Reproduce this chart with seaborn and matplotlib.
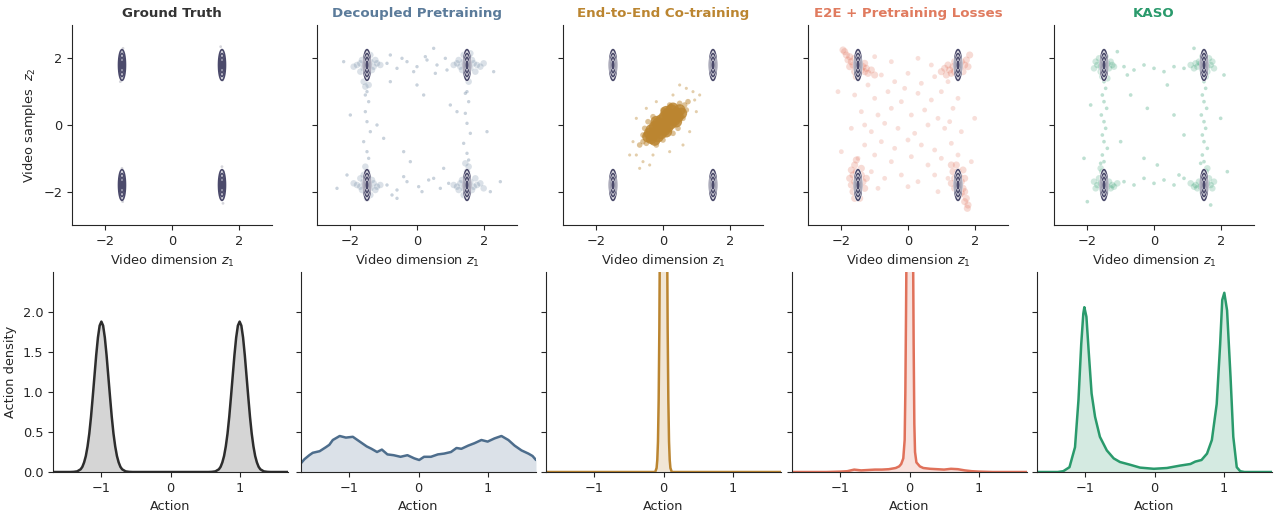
import numpy as np
import pandas as pd
import matplotlib
matplotlib.use("Agg")
import matplotlib.pyplot as plt
import matplotlib.patheffects as pe
import seaborn as sns

# ---- data ----
titles = ["Ground Truth", "Decoupled Pretraining", "End-to-End Co-training",
          "E2E + Pretraining Losses", "KASO"]
title_colors = ["#333333", "#5b7b9a", "#bb8530", "#e07b5f", "#2a9a6c"]
line_colors = ["#2d2d2d", "#4d6d8c", "#bb8530", "#e0715a", "#2a9a6c"]

# ground truth video mixture (4 modes)
gt_mean_x = [-1.5, 1.5, -1.5, 1.5]
gt_mean_y = [1.8, 1.8, -1.8, -1.8]
gt_sd_x = 0.045
gt_sd_y = 0.2
contour_levels = [0.07, 0.22, 0.5, 0.85]

gt_pts = [(-1.5, 2.2), (-1.52, 1.4), (-1.47, 2.3), (-1.55, 1.3), (1.5, 2.25), (1.52, 1.35),
          (1.46, 2.35), (-1.5, -1.3), (-1.48, -2.3), (-1.53, -2.2), (1.5, -1.25),
          (1.53, -2.35), (1.47, -2.2), (1.55, -1.4)]

dec_dense = [(-1.5, 1.8), (-1.6, 1.7), (-1.4, 1.9), (-1.7, 1.85), (-1.3, 1.75), (-1.55, 2.0),
             (-1.45, 1.6), (-1.8, 1.8), (-1.2, 1.85), (-1.65, 1.95), (-1.35, 1.65), (-1.5, 1.5),
             (-1.6, 1.3), (-1.45, 1.2), (-1.9, 1.75), (-1.1, 1.8), (-1.4, 2.1), (-1.7, 1.6),
             (-1.25, 1.95), (-1.55, 1.15),
             (1.5, 1.8), (1.6, 1.7), (1.4, 1.9), (1.7, 1.85), (1.3, 1.75), (1.55, 2.05),
             (1.45, 1.6), (1.8, 1.8), (1.2, 1.85), (1.65, 1.95), (1.35, 1.65), (1.5, 1.45),
             (1.55, 1.3), (1.9, 1.75), (1.1, 1.8), (1.4, 2.1), (1.75, 1.6), (1.25, 1.95),
             (2.0, 1.85), (1.6, 2.15),
             (-1.5, -1.8), (-1.6, -1.7), (-1.4, -1.9), (-1.7, -1.85), (-1.3, -1.75), (-1.55, -2.0),
             (-1.45, -1.6), (-1.8, -1.8), (-1.2, -1.85), (-1.65, -1.95), (-1.35, -1.65),
             (-1.5, -1.4), (-1.55, -1.25), (-1.6, -1.5), (-1.9, -1.75), (-1.1, -1.8),
             (-1.4, -2.1), (-1.7, -1.6), (-1.25, -1.95), (-1.5, -2.2),
             (1.5, -1.8), (1.6, -1.7), (1.4, -1.9), (1.7, -1.85), (1.3, -1.75), (1.55, -2.0),
             (1.45, -1.6), (1.8, -1.8), (1.2, -1.85), (1.65, -1.95), (1.35, -1.65), (1.5, -1.4),
             (1.55, -1.25), (1.9, -1.75), (1.1, -1.8), (1.4, -2.1), (1.75, -1.6), (1.25, -1.95),
             (2.0, -1.9), (1.45, -1.15)]
dec_sparse = [(-1.5, 1.0), (-1.45, 0.7), (-1.55, 0.4), (-1.5, 0.1), (-1.4, -0.2), (-1.6, -0.5),
              (-1.5, -0.8), (-1.45, -1.0), (-1.55, 0.9),
              (1.5, 1.0), (1.55, 0.7), (1.45, 0.35), (1.5, 0.05), (1.6, -0.25), (1.4, -0.55),
              (1.5, -0.85), (1.55, -1.05), (1.45, 0.95),
              (-0.9, 1.85), (-0.6, 1.7), (-0.3, 1.9), (0.0, 1.75), (0.3, 1.95), (0.6, 1.8),
              (0.9, 1.65), (-0.8, 2.1), (-0.45, 2.0), (-0.1, 1.6), (0.25, 2.05), (0.55, 1.55),
              (0.85, 2.0),
              (-0.9, -1.8), (-0.6, -1.95), (-0.3, -1.7), (0.05, -1.85), (0.35, -1.65),
              (0.7, -1.9), (0.95, -1.75), (-0.75, -2.1), (-0.4, -1.55), (0.15, -2.0), (0.5, -1.6),
              (-2.2, 1.9), (2.3, 1.6), (-0.8, 1.3), (0.8, -1.3), (-2.1, -1.5), (2.2, -2.0),
              (0.2, 0.9), (-0.4, -0.8), (2.5, -1.7), (-2.4, -1.9), (1.0, 0.6), (-1.0, -0.4),
              (0.5, 2.3), (-0.6, -2.2), (-2.0, 0.3), (2.1, -0.2), (-1.2, 0.0), (1.2, 0.4),
              (0.0, 1.2), (-0.2, -1.1)]

e2e_core = [(0, 0), (0.1, 0.1), (-0.1, -0.1), (0.2, 0.2), (-0.2, -0.2), (0.3, 0.3), (-0.3, -0.3),
            (0.4, 0.35), (-0.35, -0.4), (0.15, -0.05), (-0.05, 0.15), (0.25, 0.05), (0.05, 0.25),
            (-0.15, 0.05), (0.05, -0.15), (0.35, 0.15), (0.15, 0.35), (-0.25, -0.05),
            (-0.05, -0.25), (0.45, 0.25), (0.25, 0.45), (-0.35, -0.15), (-0.15, -0.35),
            (0.5, 0.45), (-0.45, -0.35), (0.55, 0.35), (0.3, 0.5), (-0.4, -0.25), (-0.25, -0.45),
            (0.1, -0.2), (-0.2, 0.1), (0.4, 0.1), (0.1, 0.4)]
e2e_mid = [(-0.6, -0.3), (-0.5, -0.55), (0.65, 0.6), (0.6, 0.2), (-0.3, 0.25), (0.3, -0.25),
           (0.7, 0.45), (-0.55, -0.1), (0.0, 0.45), (0.0, -0.45), (0.45, -0.1), (-0.45, 0.1),
           (0.75, 0.7), (-0.7, -0.6), (0.2, 0.6), (-0.2, -0.6), (0.5, 0.65), (-0.6, -0.5)]
e2e_sparse = [(-0.9, -0.5), (-0.8, 0.2), (0.9, 1.0), (1.0, 0.4), (-0.6, -1.1), (-0.7, -1.3),
              (0.5, 1.2), (0.3, 0.9), (-0.3, -0.9), (0.8, -0.2), (-0.5, 0.5), (0.6, -0.6),
              (1.1, 0.9), (-1.0, -0.9), (-0.2, 0.7), (0.2, -0.8), (0.7, 1.1), (-0.8, -0.9),
              (0.95, 0.75), (-0.4, -1.2)]

pre_dense = [(-1.9, 2.2), (-1.85, 2.1), (-1.75, 2.05), (-1.8, 1.95), (-1.7, 1.9), (-1.65, 1.8),
             (-1.6, 2.0), (-1.55, 1.7), (-1.45, 1.85), (-1.4, 1.65), (-1.35, 1.75), (-1.3, 1.6),
             (-1.25, 1.7), (-1.2, 1.55), (-1.1, 1.65), (-1.0, 1.5), (-1.5, 1.55), (-1.6, 1.6),
             (-1.75, 1.75), (-1.95, 2.25), (-1.3, 1.85), (-1.55, 1.45),
             (1.85, 2.1), (1.75, 1.95), (1.7, 1.8), (1.6, 1.9), (1.55, 1.7), (1.45, 1.8),
             (1.4, 1.6), (1.35, 1.75), (1.25, 1.65), (1.2, 1.8), (1.1, 1.7), (1.0, 1.6),
             (1.3, 1.55), (1.65, 1.6), (1.8, 1.75), (1.5, 2.0), (1.15, 1.5), (1.4, 1.9),
             (-1.6, -1.2), (-1.55, -1.4), (-1.65, -1.5), (-1.5, -1.6), (-1.6, -1.7),
             (-1.45, -1.8), (-1.55, -1.9), (-1.65, -2.0), (-1.5, -2.1), (-1.6, -2.2),
             (-1.4, -1.5), (-1.35, -1.7), (-1.7, -1.35), (-1.3, -1.9), (-1.7, -1.8),
             (-1.55, -1.05), (-1.45, -2.2), (-1.25, -1.6), (-1.4, -1.3), (-1.75, -1.6),
             (1.45, -1.2), (1.5, -1.4), (1.55, -1.55), (1.6, -1.7), (1.5, -1.8), (1.65, -1.9),
             (1.7, -2.0), (1.6, -2.05), (1.75, -2.2), (1.7, -2.3), (1.8, -2.4), (1.78, -2.5),
             (1.4, -1.6), (1.35, -1.4), (1.3, -1.75), (1.7, -1.6), (1.55, -2.1), (1.4, -1.9),
             (1.3, -1.2), (1.65, -1.35)]
pre_sparse = [(-1.2, 1.2), (-0.8, 1.5), (-0.4, 1.3), (0.0, 1.55), (0.4, 1.25), (0.8, 1.45),
              (1.2, 1.3), (-1.6, 0.9), (-1.0, 0.8), (-0.6, 1.0), (-0.2, 0.7), (0.3, 0.95),
              (0.7, 0.75), (1.0, 1.0), (1.5, 0.8), (-1.4, 0.4), (-0.9, 0.3), (-0.5, 0.5),
              (0.1, 0.3), (0.5, 0.45), (0.9, 0.2), (1.35, 0.5), (-1.7, -0.1), (-1.1, -0.2),
              (-0.7, 0.05), (-0.3, -0.1), (0.2, -0.25), (0.6, 0.0), (1.1, -0.1), (1.6, -0.2),
              (-1.3, -0.6), (-0.8, -0.5), (-0.4, -0.7), (0.0, -0.45), (0.4, -0.6), (0.8, -0.75),
              (1.3, -0.55), (-1.5, -1.0), (-1.0, -0.9), (-0.5, -1.1), (0.1, -0.95), (0.6, -1.2),
              (1.0, -1.0), (1.5, -0.9), (-1.1, -1.4), (-0.7, -1.6), (-0.2, -1.5), (0.3, -1.7),
              (0.8, -1.5), (1.2, -1.6), (-0.9, -1.9), (0.0, -1.85), (0.9, -2.0), (-0.5, 1.9),
              (0.3, 2.0), (0.7, 1.8), (-1.0, 2.05), (-2.1, 1.0), (2.0, 0.2), (-2.0, -0.8),
              (1.9, -1.1), (-1.3, 0.0), (1.25, 0.1), (-0.1, 1.1)]

kaso_dense = [(-1.5, 1.8), (-1.6, 1.75), (-1.4, 1.85), (-1.7, 1.8), (-1.35, 1.7), (-1.55, 1.95),
              (-1.45, 1.65), (-1.75, 1.9), (-1.25, 1.8), (-1.65, 2.0), (-1.3, 1.9), (-1.5, 1.55),
              (-1.55, 1.45), (-1.8, 1.7), (-1.2, 1.75), (-1.45, 2.05), (-1.6, 1.6), (-1.4, 1.4),
              (1.5, 1.8), (1.6, 1.75), (1.4, 1.85), (1.7, 1.8), (1.3, 1.75), (1.55, 1.95),
              (1.45, 1.65), (1.75, 1.9), (1.25, 1.85), (1.65, 2.0), (1.2, 1.7), (1.5, 1.55),
              (1.55, 1.45), (1.8, 1.7), (1.35, 1.9), (1.45, 2.05), (1.6, 1.6), (1.1, 1.8),
              (-1.5, -1.8), (-1.6, -1.75), (-1.4, -1.85), (-1.7, -1.8), (-1.35, -1.7),
              (-1.55, -1.95), (-1.45, -1.65), (-1.75, -1.9), (-1.25, -1.8), (-1.65, -1.6),
              (-1.3, -1.9), (-1.5, -1.5), (-1.55, -1.4), (-1.8, -1.7), (-1.2, -1.85),
              (-1.45, -2.0), (-1.6, -1.3), (-1.1, -1.75),
              (1.5, -1.8), (1.6, -1.75), (1.4, -1.85), (1.7, -1.8), (1.35, -1.7), (1.55, -1.95),
              (1.45, -1.65), (1.75, -1.9), (1.25, -1.8), (1.65, -1.6), (1.3, -1.9), (1.5, -1.5),
              (1.55, -1.4), (1.8, -1.7), (1.2, -1.85), (1.45, -2.0), (1.6, -1.3), (1.1, -1.75)]
kaso_sparse = [(-1.5, 1.3), (-1.45, 1.1), (-1.55, 0.9), (-1.5, 0.7), (-1.42, 0.5), (-1.58, 0.3),
               (-1.5, 0.1), (-1.45, -0.1), (-1.55, -0.3), (-1.5, -0.5), (-1.4, -0.7),
               (-1.55, -0.9), (-1.5, -1.1), (-1.6, -1.15),
               (1.5, 1.3), (1.55, 1.1), (1.45, 0.9), (1.5, 0.7), (1.58, 0.5), (1.42, 0.3),
               (1.5, 0.1), (1.55, -0.1), (1.45, -0.3), (1.5, -0.5), (1.6, -0.7), (1.45, -0.9),
               (1.5, -1.1), (1.4, -1.15),
               (-0.9, 1.75), (-0.6, 1.65), (-0.3, 1.8), (0.0, 1.7), (0.3, 1.6), (0.6, 1.75),
               (0.9, 1.7), (-0.8, 1.5),
               (-0.9, -1.7), (-0.6, -1.8), (-0.3, -1.6), (0.0, -1.75), (0.3, -1.65), (0.6, -1.8),
               (0.9, -1.6), (0.75, -1.5),
               (-0.7, 0.9), (0.4, 1.2), (0.9, -0.3), (-0.3, -1.0), (0.6, 0.3), (-1.0, -0.5),
               (2.1, 1.5), (-2.1, -1.0), (-1.9, 0.6), (2.2, -1.4), (0.1, -1.2), (-0.2, 0.5),
               (2.0, 0.2), (-2.0, -2.3), (1.7, -2.4), (-1.1, 2.2), (1.2, 2.3)]

scatter_sets = [
    [(gt_pts, 4, 0.35, "#8a8a9a")],
    [(dec_dense, 22, 0.2, None), (dec_sparse, 6, 0.3, None)],
    [(e2e_core, 70, 0.85, None), (e2e_mid, 16, 0.5, None), (e2e_sparse, 5, 0.4, None)],
    [(pre_dense, 26, 0.25, None), (pre_sparse, 12, 0.22, None)],
    [(kaso_dense, 22, 0.22, None), (kaso_sparse, 7, 0.3, None)],
]

# action densities (x, density)
gt_curve = [(-1.7, 0), (-1.45, 0), (-1.4, 0.002), (-1.35, 0.008), (-1.3, 0.034),
            (-1.275, 0.065), (-1.25, 0.12), (-1.225, 0.20), (-1.2, 0.32), (-1.175, 0.48),
            (-1.15, 0.69), (-1.125, 0.94), (-1.1, 1.20), (-1.075, 1.46), (-1.05, 1.68),
            (-1.025, 1.83), (-1.0, 1.88), (-0.975, 1.83), (-0.95, 1.68), (-0.925, 1.46),
            (-0.9, 1.20), (-0.875, 0.94), (-0.85, 0.69), (-0.825, 0.48), (-0.8, 0.32),
            (-0.775, 0.20), (-0.75, 0.12), (-0.725, 0.065), (-0.7, 0.034), (-0.65, 0.008),
            (-0.6, 0.002), (-0.55, 0),
            (0.55, 0), (0.6, 0.002), (0.65, 0.008), (0.7, 0.034), (0.725, 0.065), (0.75, 0.12),
            (0.775, 0.20), (0.8, 0.32), (0.825, 0.48), (0.85, 0.69), (0.875, 0.94), (0.9, 1.20),
            (0.925, 1.46), (0.95, 1.68), (0.975, 1.83), (1.0, 1.88), (1.025, 1.83), (1.05, 1.68),
            (1.075, 1.46), (1.1, 1.20), (1.125, 0.94), (1.15, 0.69), (1.175, 0.48), (1.2, 0.32),
            (1.225, 0.20), (1.25, 0.12), (1.275, 0.065), (1.3, 0.034), (1.35, 0.008),
            (1.4, 0.002), (1.45, 0), (1.7, 0)]
dec_curve = [(-1.71, 0.10), (-1.65, 0.16), (-1.58, 0.21), (-1.53, 0.24), (-1.43, 0.26),
             (-1.34, 0.31), (-1.29, 0.34), (-1.24, 0.40), (-1.14, 0.45), (-1.05, 0.43),
             (-0.95, 0.44), (-0.85, 0.38), (-0.75, 0.32), (-0.68, 0.29), (-0.60, 0.25),
             (-0.53, 0.28), (-0.45, 0.22), (-0.36, 0.21), (-0.26, 0.19), (-0.16, 0.21),
             (-0.06, 0.17), (0.01, 0.15), (0.08, 0.19), (0.18, 0.19), (0.28, 0.22),
             (0.37, 0.23), (0.47, 0.25), (0.55, 0.30), (0.62, 0.29), (0.72, 0.33),
             (0.81, 0.36), (0.91, 0.40), (1.0, 0.38), (1.1, 0.42), (1.2, 0.45), (1.3, 0.40),
             (1.39, 0.33), (1.49, 0.27), (1.59, 0.23), (1.65, 0.20), (1.7, 0.15)]
e2e_curve = [(-1.7, 0), (-0.12, 0), (-0.1, 0.05), (-0.09, 0.15), (-0.08, 0.38), (-0.07, 0.9),
             (-0.06, 1.8), (-0.05, 3.3), (-0.04, 5.5), (-0.02, 10.5), (0.0, 13.3), (0.02, 10.5),
             (0.04, 5.5), (0.05, 3.3), (0.06, 1.8), (0.07, 0.9), (0.08, 0.38), (0.09, 0.15),
             (0.1, 0.05), (0.12, 0), (1.7, 0)]
pre_curve = [(-1.7, 0), (-1.2, 0), (-1.0, 0.005), (-0.9, 0.01), (-0.8, 0.03), (-0.7, 0.02),
             (-0.6, 0.025), (-0.5, 0.03), (-0.4, 0.03), (-0.3, 0.035), (-0.2, 0.05),
             (-0.15, 0.07), (-0.12, 0.10), (-0.09, 0.17), (-0.07, 0.4), (-0.06, 1.0),
             (-0.05, 2.0), (-0.04, 3.2), (-0.02, 6.0), (0.0, 8.0), (0.02, 7.0), (0.04, 4.5),
             (0.05, 3.0), (0.06, 1.6), (0.07, 0.6), (0.08, 0.25), (0.1, 0.12), (0.15, 0.07),
             (0.2, 0.05), (0.3, 0.04), (0.4, 0.035), (0.5, 0.03), (0.6, 0.04), (0.7, 0.035),
             (0.8, 0.02), (0.9, 0.01), (1.0, 0.005), (1.2, 0), (1.7, 0)]
kaso_curve = [(-1.71, 0), (-1.4, 0), (-1.32, 0.01), (-1.23, 0.06), (-1.15, 0.31), (-1.1, 0.9),
              (-1.06, 1.6), (-1.03, 1.98), (-1.015, 2.06), (-0.985, 1.94), (-0.95, 1.48),
              (-0.91, 0.98), (-0.86, 0.69), (-0.79, 0.44), (-0.69, 0.27), (-0.59, 0.17),
              (-0.5, 0.125), (-0.35, 0.09), (-0.21, 0.055), (-0.01, 0.04), (0.18, 0.05),
              (0.37, 0.08), (0.52, 0.10), (0.59, 0.13), (0.68, 0.15), (0.76, 0.23),
              (0.83, 0.40), (0.9, 0.85), (0.95, 1.6), (0.98, 2.15), (1.01, 2.24), (1.05, 2.02),
              (1.1, 1.19), (1.14, 0.44), (1.19, 0.06), (1.24, 0.01), (1.3, 0), (1.71, 0)]
curves = [gt_curve, dec_curve, e2e_curve, pre_curve, kaso_curve]

# ---- plotting ----
sns.set_style("ticks")
plt.rcParams["font.family"] = ["DejaVu Sans"]
plt.rcParams["font.size"] = 9.3

fig = plt.figure(figsize=(12.8, 5.19), dpi=100)
W, H = 1280, 519
top_left = [72, 317, 563, 808, 1054]
bot_left = [53, 301, 546, 792, 1037]

gx, gy = np.meshgrid(np.linspace(-3, 3, 600), np.linspace(-3, 3, 600))
gz = np.zeros_like(gx)
for mx, my in zip(gt_mean_x, gt_mean_y):
    gz += np.exp(-((gx - mx) ** 2 / (2 * gt_sd_x ** 2) + (gy - my) ** 2 / (2 * gt_sd_y ** 2)))

for i in range(5):
    ax = fig.add_axes([top_left[i] / W, 1 - 225 / H, 200 / W, 200 / H])
    for pts, size, alpha, col in scatter_sets[i]:
        df = pd.DataFrame(pts, columns=["z1", "z2"])
        sns.scatterplot(data=df, x="z1", y="z2", ax=ax, s=size, alpha=alpha,
                        color=col or line_colors[i], edgecolor="none", linewidth=0)
    cs = ax.contour(gx, gy, gz, levels=contour_levels, colors="#4b4a6b", linewidths=1.2)
    if i > 0:
        cs.set_path_effects([pe.withStroke(linewidth=1.9, foreground="white")])
    ax.set_xlim(-3, 3)
    ax.set_ylim(-3, 3)
    ax.set_xticks([-2, 0, 2])
    ax.set_yticks([-2, 0, 2])
    ax.set_xlabel(r"Video dimension $z_1$")
    if i == 0:
        ax.set_ylabel(r"Video samples  $z_2$")
    else:
        ax.set_ylabel("")
        ax.set_yticklabels([])
    ax.set_title(titles[i], color=title_colors[i], fontweight="bold", fontsize=9.6)
    sns.despine(ax=ax)

    bx = fig.add_axes([bot_left[i] / W, 1 - 472 / H, 235 / W, 200 / H])
    cdf = pd.DataFrame(curves[i], columns=["action", "density"])
    sns.lineplot(data=cdf, x="action", y="density", ax=bx, color=line_colors[i], lw=1.8)
    bx.fill_between(cdf["action"], cdf["density"], color=line_colors[i], alpha=0.2,
                    linewidth=0)
    bx.set_xlim(-1.7, 1.7)
    bx.set_ylim(0, 2.5)
    bx.set_xticks([-1, 0, 1])
    bx.set_yticks([0, 0.5, 1.0, 1.5, 2.0])
    bx.set_xlabel("Action")
    if i == 0:
        bx.set_ylabel("Action density")
    else:
        bx.set_ylabel("")
        bx.set_yticklabels([])
    sns.despine(ax=bx)

fig.savefig("out.png", dpi=100)
